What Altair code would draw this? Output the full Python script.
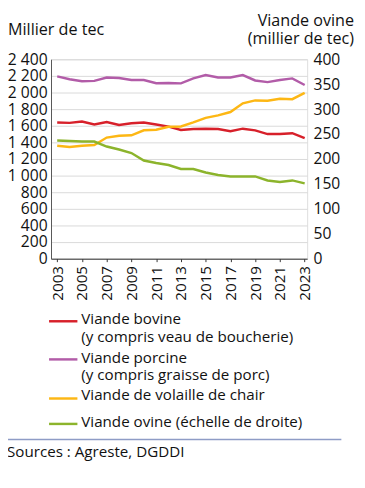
import altair as alt
import pandas as pd

years = list(range(2003, 2024))
bovine = [1640, 1635, 1650, 1615, 1645, 1610, 1630, 1640, 1615, 1590, 1550, 1560, 1565, 1560, 1535, 1565, 1545, 1500, 1500, 1510, 1450]
porcine = [2195, 2160, 2135, 2140, 2180, 2175, 2150, 2150, 2112, 2115, 2110, 2170, 2210, 2180, 2180, 2210, 2145, 2125, 2150, 2170, 2090]
volaille = [1360, 1345, 1360, 1368, 1458, 1480, 1485, 1545, 1552, 1588, 1592, 1640, 1695, 1725, 1765, 1870, 1905, 1900, 1925, 1920, 1995]
ovine = [237, 236, 235, 235, 225, 219, 212, 197, 192, 188, 180, 180, 173, 168, 165, 165, 165, 157, 154, 157, 151]

series_names = ["Viande bovine", "Viande porcine", "Viande de volaille de chair"]
series_colors = ["#d7202a", "#b25ca8", "#fdb714"]
ovine_color = "#8cb42c"
left_ticks = list(range(0, 2401, 200))
right_ticks = list(range(0, 401, 50))
x_labels = list(range(2003, 2024, 2))

FONT = "Open Sans"
TXT = "#111111"

rows = []
for name, vals in zip(series_names, [bovine, porcine, volaille]):
    for y, v in zip(years, vals):
        rows.append({"annee": y, "valeur": v, "serie": name})
df_left = pd.DataFrame(rows)
df_ovine = pd.DataFrame({"annee": years, "valeur": ovine})

xenc = alt.X("annee:Q",
             scale=alt.Scale(domain=[2002.5, 2023.2], nice=False, zero=False),
             axis=alt.Axis(values=x_labels, format="d", labelAngle=270, title=None,
                           labelFont=FONT, labelFontSize=15.5, labelColor=TXT,
                           labelAlign="right", labelBaseline="middle", labelPadding=4,
                           tickSize=3, tickColor="#333333", domainColor="#333333",
                           grid=False, labelFlush=False, labelOverlap=False))

left = alt.Chart(df_left).mark_line(strokeWidth=2.5).encode(
    x=xenc,
    y=alt.Y("valeur:Q", scale=alt.Scale(domain=[0, 2400], nice=False),
            axis=alt.Axis(values=left_ticks, title=None, orient="left",
                          labelExpr="replace(format(datum.value, ','), ',', ' ')",
                          labelFont=FONT, labelFontSize=16, labelColor=TXT,
                          labelPadding=4, ticks=False, domainColor="#555555",
                          gridColor="#d9d9d9", grid=True, labelFlush=False)),
    color=alt.Color("serie:N", scale=alt.Scale(domain=series_names, range=series_colors), legend=None),
)

right = alt.Chart(df_ovine).mark_line(strokeWidth=2.5, color=ovine_color).encode(
    x=xenc,
    y=alt.Y("valeur:Q", scale=alt.Scale(domain=[0, 400], nice=False),
            axis=alt.Axis(values=right_ticks, title=None, orient="right",
                          labelFont=FONT, labelFontSize=16, labelColor=TXT,
                          labelPadding=6, ticks=False, domain=False, grid=False,
                          labelFlush=False)),
)


def txt(t, x, y, align="left", size=15.5):
    return alt.Chart(pd.DataFrame({"t": [t]})).mark_text(
        align=align, baseline="middle", font=FONT, fontSize=size, color=TXT
    ).encode(x=alt.value(x), y=alt.value(y), text="t:N")


def rule(x1, x2, y, color, w=2.5):
    return alt.Chart(pd.DataFrame({"a": [0]})).mark_rule(color=color, strokeWidth=w).encode(
        x=alt.value(x1), x2=alt.value(x2), y=alt.value(y))


annots = [
    txt("Millier de tec", -44, -30, size=16.5),
    txt("Viande ovine", 310, -39, align="right", size=16.5),
    txt("(millier de tec)", 310, -21, align="right", size=16.5),
    rule(-2, 27, 268, series_colors[0]),
    txt("Viande bovine", 31, 266),
    txt("(y compris veau de boucherie)", 31, 284),
    rule(-2, 27, 307, series_colors[1]),
    txt("Viande porcine", 31, 306),
    txt("(y compris graisse de porc)", 31, 323),
    rule(-2, 27, 347, series_colors[2]),
    txt("Viande de volaille de chair", 31, 344),
    rule(-2, 27, 373, ovine_color),
    txt("Viande ovine (échelle de droite)", 31, 371),
    rule(-45, 297, 389, "#8e9cc6", w=1.5),
    txt("Sources : Agreste, DGDDI", -45, 402),
]

chart = alt.layer(left, right, *annots).resolve_scale(y="independent").properties(
    width=262, height=204,
    autosize=alt.AutoSizeParams(type="none"),
    padding={"left": 44, "top": 47, "right": 51, "bottom": 225},
).configure_view(stroke=None).configure(background="white")

chart.save("out.html", embed_options={"renderer": "svg", "actions": False})
